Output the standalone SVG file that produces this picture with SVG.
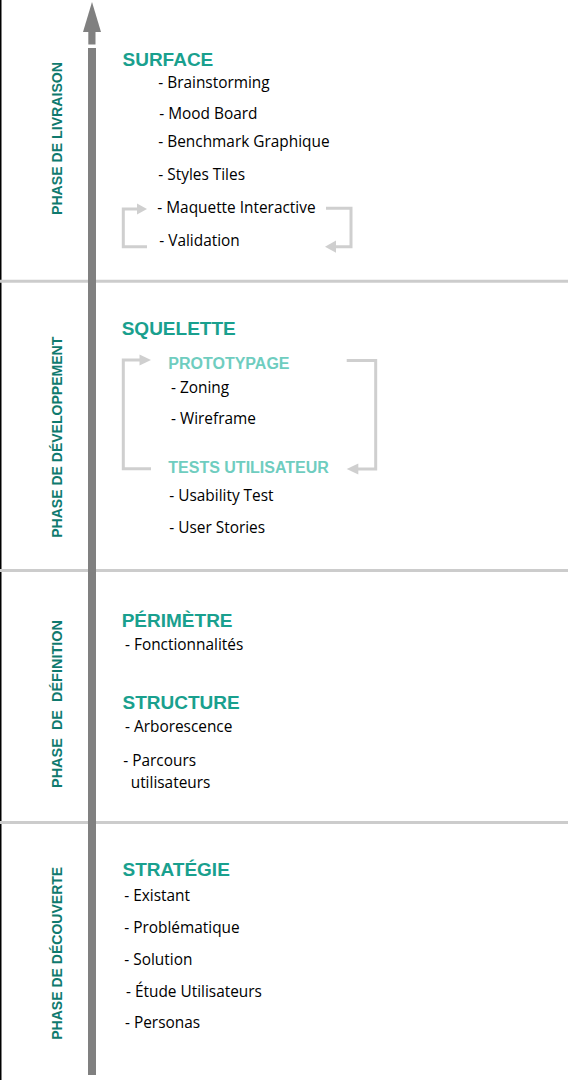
<svg xmlns="http://www.w3.org/2000/svg" width="568" height="1080" viewBox="0 0 568 1080">
<style>
.phase{font-family:"Liberation Sans",Arial,sans-serif;font-weight:bold;font-size:14px;fill:#0f7a6e}
.title{font-family:"Liberation Sans",Arial,sans-serif;font-weight:bold;font-size:19px;fill:#19a08e}
.sub{font-family:"Liberation Sans",Arial,sans-serif;font-weight:bold;font-size:16px;fill:#6fcdbf}
.item{font-family:"Open Sans","DejaVu Sans",sans-serif;font-size:15.4px;fill:#000}
.sep{stroke:#cccccc;stroke-width:3}
.loop{fill:none;stroke:#cfcfcf;stroke-width:3}
.loophead{fill:#cfcfcf}
</style>
<rect width="568" height="1080" fill="#fff"/>
<g id="frame">
<line x1="0.75" y1="0" x2="0.75" y2="1080" stroke="#000" stroke-width="1.5"/>
<line class="sep" x1="0" y1="281.3" x2="568" y2="281.3"/>
<line class="sep" x1="0" y1="570.6" x2="568" y2="570.6"/>
<line class="sep" x1="0" y1="822.5" x2="568" y2="822.5"/>
</g>
<g id="connectors">
<g id="timeline-arrow" fill="#808080">
<polygon points="92,2 101,32 83,32"/>
<rect x="88.3" y="31.5" width="7.2" height="13"/>
<rect x="88" y="48" width="8" height="1027"/>
</g>
<g id="surface-loop">
<path class="loop" d="M147,246.7 H123.3 V209 H137.5"/>
<polygon class="loophead" points="137,203.5 147,209 137,214.5"/>
<path class="loop" d="M326,208.3 H351 V246.7 H336"/>
<polygon class="loophead" points="336,240.5 325,246.7 336,252.7"/>
</g>
<g id="squelette-loop">
<path class="loop" d="M151,468.7 H123.3 V360 H140"/>
<polygon class="loophead" points="139.5,354.5 151,360 139.5,365.5"/>
<path class="loop" d="M346.7,360.5 H375.7 V469 H358"/>
<polygon class="loophead" points="358.3,463.5 346.7,469 358.3,474.5"/>
</g>
</g>
<g id="phase-livraison">
<text class="phase" transform="translate(61.5,138.5) rotate(-90)" text-anchor="middle" textLength="153" lengthAdjust="spacingAndGlyphs">PHASE DE LIVRAISON</text>
</g>
<g id="phase-developpement">
<text class="phase" transform="translate(61.5,437.3) rotate(-90)" text-anchor="middle" textLength="201" lengthAdjust="spacingAndGlyphs">PHASE DE DÉVELOPPEMENT</text>
</g>
<g id="phase-definition">
<text class="phase" xml:space="preserve" transform="translate(61.5,704) rotate(-90)" text-anchor="middle" textLength="168" lengthAdjust="spacingAndGlyphs">PHASE  DE  DÉFINITION</text>
</g>
<g id="phase-decouverte">
<text class="phase" transform="translate(61.5,953.3) rotate(-90)" text-anchor="middle" textLength="173" lengthAdjust="spacingAndGlyphs">PHASE DE DÉCOUVERTE</text>
</g>
<g id="surface">
<text class="title" x="122.5" y="65.5">SURFACE</text>
<text class="item" x="158.3" y="88.3">- Brainstorming</text>
<text class="item" x="159.3" y="119.3">- Mood Board</text>
<text class="item" x="158.3" y="147.3">- Benchmark Graphique</text>
<text class="item" x="158.3" y="180">- Styles Tiles</text>
<text class="item" x="157.3" y="213.3">- Maquette Interactive</text>
<text class="item" x="159.3" y="245.7">- Validation</text>
</g>
<g id="squelette">
<text class="title" x="121.7" y="335">SQUELETTE</text>
</g>
<g id="prototypage">
<text class="sub" x="168.3" y="369.3">PROTOTYPAGE</text>
<text class="item" x="171" y="393.3">- Zoning</text>
<text class="item" x="171" y="424.3">- Wireframe</text>
</g>
<g id="tests-utilisateur">
<text class="sub" x="168.3" y="473.3">TESTS UTILISATEUR</text>
<text class="item" x="169.3" y="500.7">- Usability Test</text>
<text class="item" x="169.3" y="533.3">- User Stories</text>
</g>
<g id="perimetre">
<text class="title" x="121.7" y="626.7">PÉRIMÈTRE</text>
<text class="item" x="125" y="650">- Fonctionnalités</text>
</g>
<g id="structure">
<text class="title" x="122.5" y="709">STRUCTURE</text>
<text class="item" x="125" y="732.3">- Arborescence</text>
<text class="item" x="123.3" y="766">- Parcours</text>
<text class="item" x="130.7" y="788.3">utilisateurs</text>
</g>
<g id="strategie">
<text class="title" x="122.5" y="876">STRATÉGIE</text>
<text class="item" x="124.3" y="901">- Existant</text>
<text class="item" x="124.3" y="932.7">- Problématique</text>
<text class="item" x="124.3" y="965">- Solution</text>
<text class="item" x="126" y="996.7">- Étude Utilisateurs</text>
<text class="item" x="125" y="1028.3">- Personas</text>
</g>
</svg>
